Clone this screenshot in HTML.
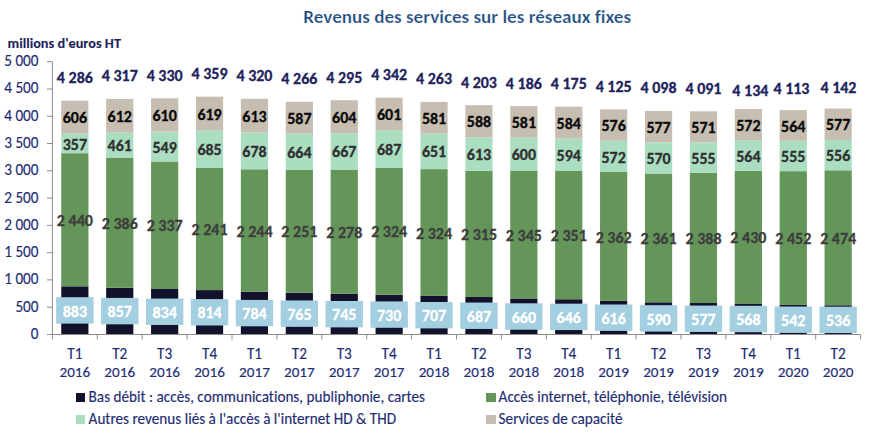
<!DOCTYPE html><html><head><meta charset="utf-8"><style>
html,body{margin:0;padding:0;background:#fff;}
svg{display:block;font-variant-ligatures:none;font-feature-settings:"liga" 0,"clig" 0;font-family:Carlito,"Liberation Sans",sans-serif;}
</style></head><body>
<svg width="871" height="435" viewBox="0 0 871 435">
<rect width="871" height="435" fill="#fff"/>
<text transform="translate(467.20 22.60) scale(1 0.93)" text-anchor="middle" font-size="19.1" font-weight="bold" fill="#1b4a80" stroke="#fff" stroke-width="0.25" textLength="327.78" lengthAdjust="spacingAndGlyphs">Revenus des services sur les réseaux fixes</text>
<text x="7.50" y="47.70" font-size="14.3" font-weight="bold" stroke="#221f5c" stroke-width="0.1" fill="#221f5c" textLength="113.48" lengthAdjust="spacingAndGlyphs">millions d'euros HT</text>
<text transform="translate(38.50 338.90) scale(1 1.03)" text-anchor="end" font-size="15.2" fill="#1e2c74" stroke="#1e2c74" stroke-width="0.15" textLength="7.71" lengthAdjust="spacingAndGlyphs">0</text>
<text transform="translate(38.50 311.62) scale(1 1.03)" text-anchor="end" font-size="15.2" fill="#1e2c74" stroke="#1e2c74" stroke-width="0.15" textLength="23.11" lengthAdjust="spacingAndGlyphs">500</text>
<text transform="translate(38.50 284.34) scale(1 1.03)" text-anchor="end" font-size="15.2" fill="#1e2c74" stroke="#1e2c74" stroke-width="0.15" textLength="34.25" lengthAdjust="spacingAndGlyphs">1 000</text>
<text transform="translate(38.50 257.06) scale(1 1.03)" text-anchor="end" font-size="15.2" fill="#1e2c74" stroke="#1e2c74" stroke-width="0.15" textLength="34.25" lengthAdjust="spacingAndGlyphs">1 500</text>
<text transform="translate(38.50 229.78) scale(1 1.03)" text-anchor="end" font-size="15.2" fill="#1e2c74" stroke="#1e2c74" stroke-width="0.15" textLength="34.25" lengthAdjust="spacingAndGlyphs">2 000</text>
<text transform="translate(38.50 202.50) scale(1 1.03)" text-anchor="end" font-size="15.2" fill="#1e2c74" stroke="#1e2c74" stroke-width="0.15" textLength="34.25" lengthAdjust="spacingAndGlyphs">2 500</text>
<text transform="translate(38.50 175.22) scale(1 1.03)" text-anchor="end" font-size="15.2" fill="#1e2c74" stroke="#1e2c74" stroke-width="0.15" textLength="34.25" lengthAdjust="spacingAndGlyphs">3 000</text>
<text transform="translate(38.50 147.94) scale(1 1.03)" text-anchor="end" font-size="15.2" fill="#1e2c74" stroke="#1e2c74" stroke-width="0.15" textLength="34.25" lengthAdjust="spacingAndGlyphs">3 500</text>
<text transform="translate(38.50 120.66) scale(1 1.03)" text-anchor="end" font-size="15.2" fill="#1e2c74" stroke="#1e2c74" stroke-width="0.15" textLength="34.25" lengthAdjust="spacingAndGlyphs">4 000</text>
<text transform="translate(38.50 93.38) scale(1 1.03)" text-anchor="end" font-size="15.2" fill="#1e2c74" stroke="#1e2c74" stroke-width="0.15" textLength="34.25" lengthAdjust="spacingAndGlyphs">4 500</text>
<text transform="translate(38.50 66.10) scale(1 1.03)" text-anchor="end" font-size="15.2" fill="#1e2c74" stroke="#1e2c74" stroke-width="0.15" textLength="34.25" lengthAdjust="spacingAndGlyphs">5 000</text>
<rect x="61.25" y="286.32" width="27.2" height="48.18" fill="#13122d"/>
<rect x="61.25" y="153.20" width="27.2" height="133.13" fill="#64965a"/>
<rect x="61.25" y="133.72" width="27.2" height="19.48" fill="#abddc1"/>
<rect x="61.25" y="100.66" width="27.2" height="33.06" fill="#c7beb2"/>
<rect x="106.15" y="287.74" width="27.2" height="46.76" fill="#13122d"/>
<rect x="106.15" y="157.56" width="27.2" height="130.18" fill="#64965a"/>
<rect x="106.15" y="132.41" width="27.2" height="25.15" fill="#abddc1"/>
<rect x="106.15" y="98.96" width="27.2" height="33.45" fill="#c7beb2"/>
<rect x="151.05" y="289.00" width="27.2" height="45.50" fill="#13122d"/>
<rect x="151.05" y="161.49" width="27.2" height="127.51" fill="#64965a"/>
<rect x="151.05" y="131.54" width="27.2" height="29.95" fill="#abddc1"/>
<rect x="151.05" y="98.26" width="27.2" height="33.28" fill="#c7beb2"/>
<rect x="195.95" y="290.09" width="27.2" height="44.41" fill="#13122d"/>
<rect x="195.95" y="167.82" width="27.2" height="122.27" fill="#64965a"/>
<rect x="195.95" y="130.45" width="27.2" height="37.37" fill="#abddc1"/>
<rect x="195.95" y="96.67" width="27.2" height="33.77" fill="#c7beb2"/>
<rect x="240.85" y="291.72" width="27.2" height="42.78" fill="#13122d"/>
<rect x="240.85" y="169.29" width="27.2" height="122.43" fill="#64965a"/>
<rect x="240.85" y="132.30" width="27.2" height="36.99" fill="#abddc1"/>
<rect x="240.85" y="98.80" width="27.2" height="33.50" fill="#c7beb2"/>
<rect x="285.75" y="292.76" width="27.2" height="41.74" fill="#13122d"/>
<rect x="285.75" y="169.95" width="27.2" height="122.81" fill="#64965a"/>
<rect x="285.75" y="133.72" width="27.2" height="36.23" fill="#abddc1"/>
<rect x="285.75" y="101.75" width="27.2" height="31.97" fill="#c7beb2"/>
<rect x="330.65" y="293.85" width="27.2" height="40.65" fill="#13122d"/>
<rect x="330.65" y="169.57" width="27.2" height="124.29" fill="#64965a"/>
<rect x="330.65" y="133.17" width="27.2" height="36.39" fill="#abddc1"/>
<rect x="330.65" y="100.16" width="27.2" height="33.01" fill="#c7beb2"/>
<rect x="375.55" y="294.67" width="27.2" height="39.83" fill="#13122d"/>
<rect x="375.55" y="167.87" width="27.2" height="126.80" fill="#64965a"/>
<rect x="375.55" y="130.39" width="27.2" height="37.48" fill="#abddc1"/>
<rect x="375.55" y="97.60" width="27.2" height="32.79" fill="#c7beb2"/>
<rect x="420.45" y="295.93" width="27.2" height="38.57" fill="#13122d"/>
<rect x="420.45" y="169.13" width="27.2" height="126.80" fill="#64965a"/>
<rect x="420.45" y="133.61" width="27.2" height="35.52" fill="#abddc1"/>
<rect x="420.45" y="101.91" width="27.2" height="31.70" fill="#c7beb2"/>
<rect x="465.35" y="297.02" width="27.2" height="37.48" fill="#13122d"/>
<rect x="465.35" y="170.71" width="27.2" height="126.31" fill="#64965a"/>
<rect x="465.35" y="137.27" width="27.2" height="33.45" fill="#abddc1"/>
<rect x="465.35" y="105.18" width="27.2" height="32.08" fill="#c7beb2"/>
<rect x="510.25" y="298.49" width="27.2" height="36.01" fill="#13122d"/>
<rect x="510.25" y="170.55" width="27.2" height="127.94" fill="#64965a"/>
<rect x="510.25" y="137.81" width="27.2" height="32.74" fill="#abddc1"/>
<rect x="510.25" y="106.11" width="27.2" height="31.70" fill="#c7beb2"/>
<rect x="555.15" y="299.25" width="27.2" height="35.25" fill="#13122d"/>
<rect x="555.15" y="170.98" width="27.2" height="128.27" fill="#64965a"/>
<rect x="555.15" y="138.58" width="27.2" height="32.41" fill="#abddc1"/>
<rect x="555.15" y="106.71" width="27.2" height="31.86" fill="#c7beb2"/>
<rect x="600.05" y="300.89" width="27.2" height="33.61" fill="#13122d"/>
<rect x="600.05" y="172.02" width="27.2" height="128.87" fill="#64965a"/>
<rect x="600.05" y="140.81" width="27.2" height="31.21" fill="#abddc1"/>
<rect x="600.05" y="109.44" width="27.2" height="31.37" fill="#c7beb2"/>
<rect x="644.95" y="302.31" width="27.2" height="32.19" fill="#13122d"/>
<rect x="644.95" y="173.49" width="27.2" height="128.82" fill="#64965a"/>
<rect x="644.95" y="142.39" width="27.2" height="31.10" fill="#abddc1"/>
<rect x="644.95" y="110.91" width="27.2" height="31.48" fill="#c7beb2"/>
<rect x="689.85" y="303.02" width="27.2" height="31.48" fill="#13122d"/>
<rect x="689.85" y="172.73" width="27.2" height="130.29" fill="#64965a"/>
<rect x="689.85" y="142.45" width="27.2" height="30.28" fill="#abddc1"/>
<rect x="689.85" y="111.30" width="27.2" height="31.15" fill="#c7beb2"/>
<rect x="734.75" y="303.51" width="27.2" height="30.99" fill="#13122d"/>
<rect x="734.75" y="170.93" width="27.2" height="132.58" fill="#64965a"/>
<rect x="734.75" y="140.16" width="27.2" height="30.77" fill="#abddc1"/>
<rect x="734.75" y="108.95" width="27.2" height="31.21" fill="#c7beb2"/>
<rect x="779.65" y="304.93" width="27.2" height="29.57" fill="#13122d"/>
<rect x="779.65" y="171.15" width="27.2" height="133.78" fill="#64965a"/>
<rect x="779.65" y="140.87" width="27.2" height="30.28" fill="#abddc1"/>
<rect x="779.65" y="110.09" width="27.2" height="30.77" fill="#c7beb2"/>
<rect x="824.55" y="305.26" width="27.2" height="29.24" fill="#13122d"/>
<rect x="824.55" y="170.27" width="27.2" height="134.98" fill="#64965a"/>
<rect x="824.55" y="139.94" width="27.2" height="30.34" fill="#abddc1"/>
<rect x="824.55" y="108.51" width="27.2" height="31.43" fill="#c7beb2"/>
<path d="M52.4 61.7V334.5H860.6" fill="none" stroke="#8c8c8c" stroke-width="1"/>
<path d="M47 334.5H52.4" stroke="#8c8c8c" stroke-width="1"/>
<path d="M47 307.2H52.4" stroke="#8c8c8c" stroke-width="1"/>
<path d="M47 279.9H52.4" stroke="#8c8c8c" stroke-width="1"/>
<path d="M47 252.7H52.4" stroke="#8c8c8c" stroke-width="1"/>
<path d="M47 225.4H52.4" stroke="#8c8c8c" stroke-width="1"/>
<path d="M47 198.1H52.4" stroke="#8c8c8c" stroke-width="1"/>
<path d="M47 170.8H52.4" stroke="#8c8c8c" stroke-width="1"/>
<path d="M47 143.5H52.4" stroke="#8c8c8c" stroke-width="1"/>
<path d="M47 116.3H52.4" stroke="#8c8c8c" stroke-width="1"/>
<path d="M47 89.0H52.4" stroke="#8c8c8c" stroke-width="1"/>
<path d="M47 61.7H52.4" stroke="#8c8c8c" stroke-width="1"/>
<path d="M52.4 334.5V339.5" stroke="#8c8c8c" stroke-width="1"/>
<path d="M97.3 334.5V339.5" stroke="#8c8c8c" stroke-width="1"/>
<path d="M142.2 334.5V339.5" stroke="#8c8c8c" stroke-width="1"/>
<path d="M187.1 334.5V339.5" stroke="#8c8c8c" stroke-width="1"/>
<path d="M232.0 334.5V339.5" stroke="#8c8c8c" stroke-width="1"/>
<path d="M276.9 334.5V339.5" stroke="#8c8c8c" stroke-width="1"/>
<path d="M321.8 334.5V339.5" stroke="#8c8c8c" stroke-width="1"/>
<path d="M366.7 334.5V339.5" stroke="#8c8c8c" stroke-width="1"/>
<path d="M411.6 334.5V339.5" stroke="#8c8c8c" stroke-width="1"/>
<path d="M456.5 334.5V339.5" stroke="#8c8c8c" stroke-width="1"/>
<path d="M501.4 334.5V339.5" stroke="#8c8c8c" stroke-width="1"/>
<path d="M546.3 334.5V339.5" stroke="#8c8c8c" stroke-width="1"/>
<path d="M591.2 334.5V339.5" stroke="#8c8c8c" stroke-width="1"/>
<path d="M636.1 334.5V339.5" stroke="#8c8c8c" stroke-width="1"/>
<path d="M681.0 334.5V339.5" stroke="#8c8c8c" stroke-width="1"/>
<path d="M725.9 334.5V339.5" stroke="#8c8c8c" stroke-width="1"/>
<path d="M770.8 334.5V339.5" stroke="#8c8c8c" stroke-width="1"/>
<path d="M815.7 334.5V339.5" stroke="#8c8c8c" stroke-width="1"/>
<path d="M860.6 334.5V339.5" stroke="#8c8c8c" stroke-width="1"/>
<rect x="56.15" y="297.21" width="37.4" height="26.4" fill="#a3cfe1"/>
<text transform="translate(74.85 316.51) scale(1 0.965)" text-anchor="middle" font-size="16" font-weight="bold" stroke="#fff" stroke-width="0.3" fill="#fff" textLength="24.33" lengthAdjust="spacingAndGlyphs">883</text>
<text transform="translate(74.85 225.86) scale(1 0.965)" text-anchor="middle" font-size="16" font-weight="bold" stroke="#3d3d3d" stroke-width="0.3" fill="#3d3d3d" textLength="36.05" lengthAdjust="spacingAndGlyphs">2 440</text>
<text transform="translate(74.85 149.56) scale(1 0.965)" text-anchor="middle" font-size="16" font-weight="bold" stroke="#303030" stroke-width="0.3" fill="#303030" textLength="24.33" lengthAdjust="spacingAndGlyphs">357</text>
<text transform="translate(74.85 123.29) scale(1 0.965)" text-anchor="middle" font-size="16" font-weight="bold" stroke="#0a0a0a" stroke-width="0.3" fill="#0a0a0a" textLength="24.33" lengthAdjust="spacingAndGlyphs">606</text>
<text transform="translate(74.85 83.16) scale(1 0.94)" text-anchor="middle" font-size="16" font-weight="bold" stroke="#221f5c" stroke-width="0.3" fill="#221f5c" textLength="36.03" lengthAdjust="spacingAndGlyphs">4 286</text>
<text transform="translate(74.85 359.10) scale(1 1.04)" text-anchor="middle" font-size="15.2" fill="#1e2c74" stroke="#1e2c74" stroke-width="0.15" textLength="15.12" lengthAdjust="spacingAndGlyphs">T1</text>
<text x="74.85" y="376.50" text-anchor="middle" font-size="15.2" fill="#1e2c74" stroke="#1e2c74" stroke-width="0.15" textLength="30.80" lengthAdjust="spacingAndGlyphs">2016</text>
<rect x="101.05" y="297.92" width="37.4" height="26.4" fill="#a3cfe1"/>
<text transform="translate(119.75 317.22) scale(1 0.965)" text-anchor="middle" font-size="16" font-weight="bold" stroke="#fff" stroke-width="0.3" fill="#fff" textLength="24.33" lengthAdjust="spacingAndGlyphs">857</text>
<text transform="translate(119.75 228.75) scale(1 0.965)" text-anchor="middle" font-size="16" font-weight="bold" stroke="#3d3d3d" stroke-width="0.3" fill="#3d3d3d" textLength="36.05" lengthAdjust="spacingAndGlyphs">2 386</text>
<text transform="translate(119.75 151.09) scale(1 0.965)" text-anchor="middle" font-size="16" font-weight="bold" stroke="#303030" stroke-width="0.3" fill="#303030" textLength="24.33" lengthAdjust="spacingAndGlyphs">461</text>
<text transform="translate(119.75 121.76) scale(1 0.965)" text-anchor="middle" font-size="16" font-weight="bold" stroke="#0a0a0a" stroke-width="0.3" fill="#0a0a0a" textLength="24.33" lengthAdjust="spacingAndGlyphs">612</text>
<text transform="translate(119.75 81.46) scale(1 0.94)" text-anchor="middle" font-size="16" font-weight="bold" stroke="#221f5c" stroke-width="0.3" fill="#221f5c" textLength="36.03" lengthAdjust="spacingAndGlyphs">4 317</text>
<text transform="translate(119.75 359.10) scale(1 1.04)" text-anchor="middle" font-size="15.2" fill="#1e2c74" stroke="#1e2c74" stroke-width="0.15" textLength="15.12" lengthAdjust="spacingAndGlyphs">T2</text>
<text x="119.75" y="376.50" text-anchor="middle" font-size="15.2" fill="#1e2c74" stroke="#1e2c74" stroke-width="0.15" textLength="30.80" lengthAdjust="spacingAndGlyphs">2016</text>
<rect x="145.95" y="298.55" width="37.4" height="26.4" fill="#a3cfe1"/>
<text transform="translate(164.65 317.85) scale(1 0.965)" text-anchor="middle" font-size="16" font-weight="bold" stroke="#fff" stroke-width="0.3" fill="#fff" textLength="24.33" lengthAdjust="spacingAndGlyphs">834</text>
<text transform="translate(164.65 231.34) scale(1 0.965)" text-anchor="middle" font-size="16" font-weight="bold" stroke="#3d3d3d" stroke-width="0.3" fill="#3d3d3d" textLength="36.05" lengthAdjust="spacingAndGlyphs">2 337</text>
<text transform="translate(164.65 152.61) scale(1 0.965)" text-anchor="middle" font-size="16" font-weight="bold" stroke="#303030" stroke-width="0.3" fill="#303030" textLength="24.33" lengthAdjust="spacingAndGlyphs">549</text>
<text transform="translate(164.65 121.00) scale(1 0.965)" text-anchor="middle" font-size="16" font-weight="bold" stroke="#0a0a0a" stroke-width="0.3" fill="#0a0a0a" textLength="24.33" lengthAdjust="spacingAndGlyphs">610</text>
<text transform="translate(164.65 80.76) scale(1 0.94)" text-anchor="middle" font-size="16" font-weight="bold" stroke="#221f5c" stroke-width="0.3" fill="#221f5c" textLength="36.03" lengthAdjust="spacingAndGlyphs">4 330</text>
<text transform="translate(164.65 359.10) scale(1 1.04)" text-anchor="middle" font-size="15.2" fill="#1e2c74" stroke="#1e2c74" stroke-width="0.15" textLength="15.12" lengthAdjust="spacingAndGlyphs">T3</text>
<text x="164.65" y="376.50" text-anchor="middle" font-size="15.2" fill="#1e2c74" stroke="#1e2c74" stroke-width="0.15" textLength="30.80" lengthAdjust="spacingAndGlyphs">2016</text>
<rect x="190.85" y="299.09" width="37.4" height="26.4" fill="#a3cfe1"/>
<text transform="translate(209.55 318.39) scale(1 0.965)" text-anchor="middle" font-size="16" font-weight="bold" stroke="#fff" stroke-width="0.3" fill="#fff" textLength="24.33" lengthAdjust="spacingAndGlyphs">814</text>
<text transform="translate(209.55 235.05) scale(1 0.965)" text-anchor="middle" font-size="16" font-weight="bold" stroke="#3d3d3d" stroke-width="0.3" fill="#3d3d3d" textLength="36.05" lengthAdjust="spacingAndGlyphs">2 241</text>
<text transform="translate(209.55 155.23) scale(1 0.965)" text-anchor="middle" font-size="16" font-weight="bold" stroke="#303030" stroke-width="0.3" fill="#303030" textLength="24.33" lengthAdjust="spacingAndGlyphs">685</text>
<text transform="translate(209.55 119.66) scale(1 0.965)" text-anchor="middle" font-size="16" font-weight="bold" stroke="#0a0a0a" stroke-width="0.3" fill="#0a0a0a" textLength="24.33" lengthAdjust="spacingAndGlyphs">619</text>
<text transform="translate(209.55 79.17) scale(1 0.94)" text-anchor="middle" font-size="16" font-weight="bold" stroke="#221f5c" stroke-width="0.3" fill="#221f5c" textLength="36.03" lengthAdjust="spacingAndGlyphs">4 359</text>
<text transform="translate(209.55 359.10) scale(1 1.04)" text-anchor="middle" font-size="15.2" fill="#1e2c74" stroke="#1e2c74" stroke-width="0.15" textLength="15.12" lengthAdjust="spacingAndGlyphs">T4</text>
<text x="209.55" y="376.50" text-anchor="middle" font-size="15.2" fill="#1e2c74" stroke="#1e2c74" stroke-width="0.15" textLength="30.80" lengthAdjust="spacingAndGlyphs">2016</text>
<rect x="235.75" y="299.91" width="37.4" height="26.4" fill="#a3cfe1"/>
<text transform="translate(254.45 319.21) scale(1 0.965)" text-anchor="middle" font-size="16" font-weight="bold" stroke="#fff" stroke-width="0.3" fill="#fff" textLength="24.33" lengthAdjust="spacingAndGlyphs">784</text>
<text transform="translate(254.45 236.61) scale(1 0.965)" text-anchor="middle" font-size="16" font-weight="bold" stroke="#3d3d3d" stroke-width="0.3" fill="#3d3d3d" textLength="36.05" lengthAdjust="spacingAndGlyphs">2 244</text>
<text transform="translate(254.45 156.90) scale(1 0.965)" text-anchor="middle" font-size="16" font-weight="bold" stroke="#303030" stroke-width="0.3" fill="#303030" textLength="24.33" lengthAdjust="spacingAndGlyphs">678</text>
<text transform="translate(254.45 121.62) scale(1 0.965)" text-anchor="middle" font-size="16" font-weight="bold" stroke="#0a0a0a" stroke-width="0.3" fill="#0a0a0a" textLength="24.33" lengthAdjust="spacingAndGlyphs">613</text>
<text transform="translate(254.45 81.30) scale(1 0.94)" text-anchor="middle" font-size="16" font-weight="bold" stroke="#221f5c" stroke-width="0.3" fill="#221f5c" textLength="36.03" lengthAdjust="spacingAndGlyphs">4 320</text>
<text transform="translate(254.45 359.10) scale(1 1.04)" text-anchor="middle" font-size="15.2" fill="#1e2c74" stroke="#1e2c74" stroke-width="0.15" textLength="15.12" lengthAdjust="spacingAndGlyphs">T1</text>
<text x="254.45" y="376.50" text-anchor="middle" font-size="15.2" fill="#1e2c74" stroke="#1e2c74" stroke-width="0.15" textLength="30.80" lengthAdjust="spacingAndGlyphs">2017</text>
<rect x="280.65" y="300.43" width="37.4" height="26.4" fill="#a3cfe1"/>
<text transform="translate(299.35 319.73) scale(1 0.965)" text-anchor="middle" font-size="16" font-weight="bold" stroke="#fff" stroke-width="0.3" fill="#fff" textLength="24.33" lengthAdjust="spacingAndGlyphs">765</text>
<text transform="translate(299.35 237.45) scale(1 0.965)" text-anchor="middle" font-size="16" font-weight="bold" stroke="#3d3d3d" stroke-width="0.3" fill="#3d3d3d" textLength="36.05" lengthAdjust="spacingAndGlyphs">2 251</text>
<text transform="translate(299.35 157.93) scale(1 0.965)" text-anchor="middle" font-size="16" font-weight="bold" stroke="#303030" stroke-width="0.3" fill="#303030" textLength="24.33" lengthAdjust="spacingAndGlyphs">664</text>
<text transform="translate(299.35 123.86) scale(1 0.965)" text-anchor="middle" font-size="16" font-weight="bold" stroke="#0a0a0a" stroke-width="0.3" fill="#0a0a0a" textLength="24.33" lengthAdjust="spacingAndGlyphs">587</text>
<text transform="translate(299.35 84.25) scale(1 0.94)" text-anchor="middle" font-size="16" font-weight="bold" stroke="#221f5c" stroke-width="0.3" fill="#221f5c" textLength="36.03" lengthAdjust="spacingAndGlyphs">4 266</text>
<text transform="translate(299.35 359.10) scale(1 1.04)" text-anchor="middle" font-size="15.2" fill="#1e2c74" stroke="#1e2c74" stroke-width="0.15" textLength="15.12" lengthAdjust="spacingAndGlyphs">T2</text>
<text x="299.35" y="376.50" text-anchor="middle" font-size="15.2" fill="#1e2c74" stroke="#1e2c74" stroke-width="0.15" textLength="30.80" lengthAdjust="spacingAndGlyphs">2017</text>
<rect x="325.55" y="300.98" width="37.4" height="26.4" fill="#a3cfe1"/>
<text transform="translate(344.25 320.28) scale(1 0.965)" text-anchor="middle" font-size="16" font-weight="bold" stroke="#fff" stroke-width="0.3" fill="#fff" textLength="24.33" lengthAdjust="spacingAndGlyphs">745</text>
<text transform="translate(344.25 237.81) scale(1 0.965)" text-anchor="middle" font-size="16" font-weight="bold" stroke="#3d3d3d" stroke-width="0.3" fill="#3d3d3d" textLength="36.05" lengthAdjust="spacingAndGlyphs">2 278</text>
<text transform="translate(344.25 157.47) scale(1 0.965)" text-anchor="middle" font-size="16" font-weight="bold" stroke="#303030" stroke-width="0.3" fill="#303030" textLength="24.33" lengthAdjust="spacingAndGlyphs">667</text>
<text transform="translate(344.25 122.74) scale(1 0.965)" text-anchor="middle" font-size="16" font-weight="bold" stroke="#0a0a0a" stroke-width="0.3" fill="#0a0a0a" textLength="24.33" lengthAdjust="spacingAndGlyphs">604</text>
<text transform="translate(344.25 82.66) scale(1 0.94)" text-anchor="middle" font-size="16" font-weight="bold" stroke="#221f5c" stroke-width="0.3" fill="#221f5c" textLength="36.03" lengthAdjust="spacingAndGlyphs">4 295</text>
<text transform="translate(344.25 359.10) scale(1 1.04)" text-anchor="middle" font-size="15.2" fill="#1e2c74" stroke="#1e2c74" stroke-width="0.15" textLength="15.12" lengthAdjust="spacingAndGlyphs">T3</text>
<text x="344.25" y="376.50" text-anchor="middle" font-size="15.2" fill="#1e2c74" stroke="#1e2c74" stroke-width="0.15" textLength="30.80" lengthAdjust="spacingAndGlyphs">2017</text>
<rect x="370.45" y="301.39" width="37.4" height="26.4" fill="#a3cfe1"/>
<text transform="translate(389.15 320.69) scale(1 0.965)" text-anchor="middle" font-size="16" font-weight="bold" stroke="#fff" stroke-width="0.3" fill="#fff" textLength="24.33" lengthAdjust="spacingAndGlyphs">730</text>
<text transform="translate(389.15 237.37) scale(1 0.965)" text-anchor="middle" font-size="16" font-weight="bold" stroke="#3d3d3d" stroke-width="0.3" fill="#3d3d3d" textLength="36.05" lengthAdjust="spacingAndGlyphs">2 324</text>
<text transform="translate(389.15 155.23) scale(1 0.965)" text-anchor="middle" font-size="16" font-weight="bold" stroke="#303030" stroke-width="0.3" fill="#303030" textLength="24.33" lengthAdjust="spacingAndGlyphs">687</text>
<text transform="translate(389.15 120.10) scale(1 0.965)" text-anchor="middle" font-size="16" font-weight="bold" stroke="#0a0a0a" stroke-width="0.3" fill="#0a0a0a" textLength="24.33" lengthAdjust="spacingAndGlyphs">601</text>
<text transform="translate(389.15 80.10) scale(1 0.94)" text-anchor="middle" font-size="16" font-weight="bold" stroke="#221f5c" stroke-width="0.3" fill="#221f5c" textLength="36.03" lengthAdjust="spacingAndGlyphs">4 342</text>
<text transform="translate(389.15 359.10) scale(1 1.04)" text-anchor="middle" font-size="15.2" fill="#1e2c74" stroke="#1e2c74" stroke-width="0.15" textLength="15.12" lengthAdjust="spacingAndGlyphs">T4</text>
<text x="389.15" y="376.50" text-anchor="middle" font-size="15.2" fill="#1e2c74" stroke="#1e2c74" stroke-width="0.15" textLength="30.80" lengthAdjust="spacingAndGlyphs">2017</text>
<rect x="415.35" y="302.01" width="37.4" height="26.4" fill="#a3cfe1"/>
<text transform="translate(434.05 321.31) scale(1 0.965)" text-anchor="middle" font-size="16" font-weight="bold" stroke="#fff" stroke-width="0.3" fill="#fff" textLength="24.33" lengthAdjust="spacingAndGlyphs">707</text>
<text transform="translate(434.05 238.63) scale(1 0.965)" text-anchor="middle" font-size="16" font-weight="bold" stroke="#3d3d3d" stroke-width="0.3" fill="#3d3d3d" textLength="36.05" lengthAdjust="spacingAndGlyphs">2 324</text>
<text transform="translate(434.05 157.47) scale(1 0.965)" text-anchor="middle" font-size="16" font-weight="bold" stroke="#303030" stroke-width="0.3" fill="#303030" textLength="24.33" lengthAdjust="spacingAndGlyphs">651</text>
<text transform="translate(434.05 123.86) scale(1 0.965)" text-anchor="middle" font-size="16" font-weight="bold" stroke="#0a0a0a" stroke-width="0.3" fill="#0a0a0a" textLength="24.33" lengthAdjust="spacingAndGlyphs">581</text>
<text transform="translate(434.05 84.41) scale(1 0.94)" text-anchor="middle" font-size="16" font-weight="bold" stroke="#221f5c" stroke-width="0.3" fill="#221f5c" textLength="36.03" lengthAdjust="spacingAndGlyphs">4 263</text>
<text transform="translate(434.05 359.10) scale(1 1.04)" text-anchor="middle" font-size="15.2" fill="#1e2c74" stroke="#1e2c74" stroke-width="0.15" textLength="15.12" lengthAdjust="spacingAndGlyphs">T1</text>
<text x="434.05" y="376.50" text-anchor="middle" font-size="15.2" fill="#1e2c74" stroke="#1e2c74" stroke-width="0.15" textLength="30.80" lengthAdjust="spacingAndGlyphs">2018</text>
<rect x="460.25" y="302.56" width="37.4" height="26.4" fill="#a3cfe1"/>
<text transform="translate(478.95 321.86) scale(1 0.965)" text-anchor="middle" font-size="16" font-weight="bold" stroke="#fff" stroke-width="0.3" fill="#fff" textLength="24.33" lengthAdjust="spacingAndGlyphs">687</text>
<text transform="translate(478.95 239.96) scale(1 0.965)" text-anchor="middle" font-size="16" font-weight="bold" stroke="#3d3d3d" stroke-width="0.3" fill="#3d3d3d" textLength="36.05" lengthAdjust="spacingAndGlyphs">2 315</text>
<text transform="translate(478.95 160.09) scale(1 0.965)" text-anchor="middle" font-size="16" font-weight="bold" stroke="#303030" stroke-width="0.3" fill="#303030" textLength="24.33" lengthAdjust="spacingAndGlyphs">613</text>
<text transform="translate(478.95 127.32) scale(1 0.965)" text-anchor="middle" font-size="16" font-weight="bold" stroke="#0a0a0a" stroke-width="0.3" fill="#0a0a0a" textLength="24.33" lengthAdjust="spacingAndGlyphs">588</text>
<text transform="translate(478.95 87.68) scale(1 0.94)" text-anchor="middle" font-size="16" font-weight="bold" stroke="#221f5c" stroke-width="0.3" fill="#221f5c" textLength="36.03" lengthAdjust="spacingAndGlyphs">4 203</text>
<text transform="translate(478.95 359.10) scale(1 1.04)" text-anchor="middle" font-size="15.2" fill="#1e2c74" stroke="#1e2c74" stroke-width="0.15" textLength="15.12" lengthAdjust="spacingAndGlyphs">T2</text>
<text x="478.95" y="376.50" text-anchor="middle" font-size="15.2" fill="#1e2c74" stroke="#1e2c74" stroke-width="0.15" textLength="30.80" lengthAdjust="spacingAndGlyphs">2018</text>
<rect x="505.15" y="303.30" width="37.4" height="26.4" fill="#a3cfe1"/>
<text transform="translate(523.85 322.60) scale(1 0.965)" text-anchor="middle" font-size="16" font-weight="bold" stroke="#fff" stroke-width="0.3" fill="#fff" textLength="24.33" lengthAdjust="spacingAndGlyphs">660</text>
<text transform="translate(523.85 240.62) scale(1 0.965)" text-anchor="middle" font-size="16" font-weight="bold" stroke="#3d3d3d" stroke-width="0.3" fill="#3d3d3d" textLength="36.05" lengthAdjust="spacingAndGlyphs">2 345</text>
<text transform="translate(523.85 160.28) scale(1 0.965)" text-anchor="middle" font-size="16" font-weight="bold" stroke="#303030" stroke-width="0.3" fill="#303030" textLength="24.33" lengthAdjust="spacingAndGlyphs">600</text>
<text transform="translate(523.85 128.06) scale(1 0.965)" text-anchor="middle" font-size="16" font-weight="bold" stroke="#0a0a0a" stroke-width="0.3" fill="#0a0a0a" textLength="24.33" lengthAdjust="spacingAndGlyphs">581</text>
<text transform="translate(523.85 88.61) scale(1 0.94)" text-anchor="middle" font-size="16" font-weight="bold" stroke="#221f5c" stroke-width="0.3" fill="#221f5c" textLength="36.03" lengthAdjust="spacingAndGlyphs">4 186</text>
<text transform="translate(523.85 359.10) scale(1 1.04)" text-anchor="middle" font-size="15.2" fill="#1e2c74" stroke="#1e2c74" stroke-width="0.15" textLength="15.12" lengthAdjust="spacingAndGlyphs">T3</text>
<text x="523.85" y="376.50" text-anchor="middle" font-size="15.2" fill="#1e2c74" stroke="#1e2c74" stroke-width="0.15" textLength="30.80" lengthAdjust="spacingAndGlyphs">2018</text>
<rect x="550.05" y="303.68" width="37.4" height="26.4" fill="#a3cfe1"/>
<text transform="translate(568.75 322.98) scale(1 0.965)" text-anchor="middle" font-size="16" font-weight="bold" stroke="#fff" stroke-width="0.3" fill="#fff" textLength="24.33" lengthAdjust="spacingAndGlyphs">646</text>
<text transform="translate(568.75 241.22) scale(1 0.965)" text-anchor="middle" font-size="16" font-weight="bold" stroke="#3d3d3d" stroke-width="0.3" fill="#3d3d3d" textLength="36.05" lengthAdjust="spacingAndGlyphs">2 351</text>
<text transform="translate(568.75 160.88) scale(1 0.965)" text-anchor="middle" font-size="16" font-weight="bold" stroke="#303030" stroke-width="0.3" fill="#303030" textLength="24.33" lengthAdjust="spacingAndGlyphs">594</text>
<text transform="translate(568.75 128.74) scale(1 0.965)" text-anchor="middle" font-size="16" font-weight="bold" stroke="#0a0a0a" stroke-width="0.3" fill="#0a0a0a" textLength="24.33" lengthAdjust="spacingAndGlyphs">584</text>
<text transform="translate(568.75 89.21) scale(1 0.94)" text-anchor="middle" font-size="16" font-weight="bold" stroke="#221f5c" stroke-width="0.3" fill="#221f5c" textLength="36.03" lengthAdjust="spacingAndGlyphs">4 175</text>
<text transform="translate(568.75 359.10) scale(1 1.04)" text-anchor="middle" font-size="15.2" fill="#1e2c74" stroke="#1e2c74" stroke-width="0.15" textLength="15.12" lengthAdjust="spacingAndGlyphs">T4</text>
<text x="568.75" y="376.50" text-anchor="middle" font-size="15.2" fill="#1e2c74" stroke="#1e2c74" stroke-width="0.15" textLength="30.80" lengthAdjust="spacingAndGlyphs">2018</text>
<rect x="594.95" y="304.50" width="37.4" height="26.4" fill="#a3cfe1"/>
<text transform="translate(613.65 323.80) scale(1 0.965)" text-anchor="middle" font-size="16" font-weight="bold" stroke="#fff" stroke-width="0.3" fill="#fff" textLength="24.33" lengthAdjust="spacingAndGlyphs">616</text>
<text transform="translate(613.65 242.56) scale(1 0.965)" text-anchor="middle" font-size="16" font-weight="bold" stroke="#3d3d3d" stroke-width="0.3" fill="#3d3d3d" textLength="36.05" lengthAdjust="spacingAndGlyphs">2 362</text>
<text transform="translate(613.65 162.52) scale(1 0.965)" text-anchor="middle" font-size="16" font-weight="bold" stroke="#303030" stroke-width="0.3" fill="#303030" textLength="24.33" lengthAdjust="spacingAndGlyphs">572</text>
<text transform="translate(613.65 131.25) scale(1 0.965)" text-anchor="middle" font-size="16" font-weight="bold" stroke="#0a0a0a" stroke-width="0.3" fill="#0a0a0a" textLength="24.33" lengthAdjust="spacingAndGlyphs">576</text>
<text transform="translate(613.65 91.94) scale(1 0.94)" text-anchor="middle" font-size="16" font-weight="bold" stroke="#221f5c" stroke-width="0.3" fill="#221f5c" textLength="36.03" lengthAdjust="spacingAndGlyphs">4 125</text>
<text transform="translate(613.65 359.10) scale(1 1.04)" text-anchor="middle" font-size="15.2" fill="#1e2c74" stroke="#1e2c74" stroke-width="0.15" textLength="15.12" lengthAdjust="spacingAndGlyphs">T1</text>
<text x="613.65" y="376.50" text-anchor="middle" font-size="15.2" fill="#1e2c74" stroke="#1e2c74" stroke-width="0.15" textLength="30.80" lengthAdjust="spacingAndGlyphs">2019</text>
<rect x="639.85" y="305.20" width="37.4" height="26.4" fill="#a3cfe1"/>
<text transform="translate(658.55 324.50) scale(1 0.965)" text-anchor="middle" font-size="16" font-weight="bold" stroke="#fff" stroke-width="0.3" fill="#fff" textLength="24.33" lengthAdjust="spacingAndGlyphs">590</text>
<text transform="translate(658.55 244.00) scale(1 0.965)" text-anchor="middle" font-size="16" font-weight="bold" stroke="#3d3d3d" stroke-width="0.3" fill="#3d3d3d" textLength="36.05" lengthAdjust="spacingAndGlyphs">2 361</text>
<text transform="translate(658.55 164.04) scale(1 0.965)" text-anchor="middle" font-size="16" font-weight="bold" stroke="#303030" stroke-width="0.3" fill="#303030" textLength="24.33" lengthAdjust="spacingAndGlyphs">570</text>
<text transform="translate(658.55 132.75) scale(1 0.965)" text-anchor="middle" font-size="16" font-weight="bold" stroke="#0a0a0a" stroke-width="0.3" fill="#0a0a0a" textLength="24.33" lengthAdjust="spacingAndGlyphs">577</text>
<text transform="translate(658.55 93.41) scale(1 0.94)" text-anchor="middle" font-size="16" font-weight="bold" stroke="#221f5c" stroke-width="0.3" fill="#221f5c" textLength="36.03" lengthAdjust="spacingAndGlyphs">4 098</text>
<text transform="translate(658.55 359.10) scale(1 1.04)" text-anchor="middle" font-size="15.2" fill="#1e2c74" stroke="#1e2c74" stroke-width="0.15" textLength="15.12" lengthAdjust="spacingAndGlyphs">T2</text>
<text x="658.55" y="376.50" text-anchor="middle" font-size="15.2" fill="#1e2c74" stroke="#1e2c74" stroke-width="0.15" textLength="30.80" lengthAdjust="spacingAndGlyphs">2019</text>
<rect x="684.75" y="305.56" width="37.4" height="26.4" fill="#a3cfe1"/>
<text transform="translate(703.45 324.86) scale(1 0.965)" text-anchor="middle" font-size="16" font-weight="bold" stroke="#fff" stroke-width="0.3" fill="#fff" textLength="24.33" lengthAdjust="spacingAndGlyphs">577</text>
<text transform="translate(703.45 243.97) scale(1 0.965)" text-anchor="middle" font-size="16" font-weight="bold" stroke="#3d3d3d" stroke-width="0.3" fill="#3d3d3d" textLength="36.05" lengthAdjust="spacingAndGlyphs">2 388</text>
<text transform="translate(703.45 163.69) scale(1 0.965)" text-anchor="middle" font-size="16" font-weight="bold" stroke="#303030" stroke-width="0.3" fill="#303030" textLength="24.33" lengthAdjust="spacingAndGlyphs">555</text>
<text transform="translate(703.45 132.97) scale(1 0.965)" text-anchor="middle" font-size="16" font-weight="bold" stroke="#0a0a0a" stroke-width="0.3" fill="#0a0a0a" textLength="24.33" lengthAdjust="spacingAndGlyphs">571</text>
<text transform="translate(703.45 93.80) scale(1 0.94)" text-anchor="middle" font-size="16" font-weight="bold" stroke="#221f5c" stroke-width="0.3" fill="#221f5c" textLength="36.03" lengthAdjust="spacingAndGlyphs">4 091</text>
<text transform="translate(703.45 359.10) scale(1 1.04)" text-anchor="middle" font-size="15.2" fill="#1e2c74" stroke="#1e2c74" stroke-width="0.15" textLength="15.12" lengthAdjust="spacingAndGlyphs">T3</text>
<text x="703.45" y="376.50" text-anchor="middle" font-size="15.2" fill="#1e2c74" stroke="#1e2c74" stroke-width="0.15" textLength="30.80" lengthAdjust="spacingAndGlyphs">2019</text>
<rect x="729.65" y="305.80" width="37.4" height="26.4" fill="#a3cfe1"/>
<text transform="translate(748.35 325.10) scale(1 0.965)" text-anchor="middle" font-size="16" font-weight="bold" stroke="#fff" stroke-width="0.3" fill="#fff" textLength="24.33" lengthAdjust="spacingAndGlyphs">568</text>
<text transform="translate(748.35 243.32) scale(1 0.965)" text-anchor="middle" font-size="16" font-weight="bold" stroke="#3d3d3d" stroke-width="0.3" fill="#3d3d3d" textLength="36.05" lengthAdjust="spacingAndGlyphs">2 430</text>
<text transform="translate(748.35 161.64) scale(1 0.965)" text-anchor="middle" font-size="16" font-weight="bold" stroke="#303030" stroke-width="0.3" fill="#303030" textLength="24.33" lengthAdjust="spacingAndGlyphs">564</text>
<text transform="translate(748.35 130.65) scale(1 0.965)" text-anchor="middle" font-size="16" font-weight="bold" stroke="#0a0a0a" stroke-width="0.3" fill="#0a0a0a" textLength="24.33" lengthAdjust="spacingAndGlyphs">572</text>
<text transform="translate(750.35 96.05) scale(1 0.94)" text-anchor="middle" font-size="16" font-weight="bold" stroke="#221f5c" stroke-width="0.3" fill="#221f5c" textLength="36.03" lengthAdjust="spacingAndGlyphs">4 134</text>
<text transform="translate(748.35 359.10) scale(1 1.04)" text-anchor="middle" font-size="15.2" fill="#1e2c74" stroke="#1e2c74" stroke-width="0.15" textLength="15.12" lengthAdjust="spacingAndGlyphs">T4</text>
<text x="748.35" y="376.50" text-anchor="middle" font-size="15.2" fill="#1e2c74" stroke="#1e2c74" stroke-width="0.15" textLength="30.80" lengthAdjust="spacingAndGlyphs">2019</text>
<rect x="774.55" y="306.51" width="37.4" height="26.4" fill="#a3cfe1"/>
<text transform="translate(793.25 325.81) scale(1 0.965)" text-anchor="middle" font-size="16" font-weight="bold" stroke="#fff" stroke-width="0.3" fill="#fff" textLength="24.33" lengthAdjust="spacingAndGlyphs">542</text>
<text transform="translate(793.25 244.14) scale(1 0.965)" text-anchor="middle" font-size="16" font-weight="bold" stroke="#3d3d3d" stroke-width="0.3" fill="#3d3d3d" textLength="36.05" lengthAdjust="spacingAndGlyphs">2 452</text>
<text transform="translate(793.25 162.11) scale(1 0.965)" text-anchor="middle" font-size="16" font-weight="bold" stroke="#303030" stroke-width="0.3" fill="#303030" textLength="24.33" lengthAdjust="spacingAndGlyphs">555</text>
<text transform="translate(793.25 131.58) scale(1 0.965)" text-anchor="middle" font-size="16" font-weight="bold" stroke="#0a0a0a" stroke-width="0.3" fill="#0a0a0a" textLength="24.33" lengthAdjust="spacingAndGlyphs">564</text>
<text transform="translate(791.45 94.39) scale(1 0.94)" text-anchor="middle" font-size="16" font-weight="bold" stroke="#221f5c" stroke-width="0.3" fill="#221f5c" textLength="36.03" lengthAdjust="spacingAndGlyphs">4 113</text>
<text transform="translate(793.25 359.10) scale(1 1.04)" text-anchor="middle" font-size="15.2" fill="#1e2c74" stroke="#1e2c74" stroke-width="0.15" textLength="15.12" lengthAdjust="spacingAndGlyphs">T1</text>
<text x="793.25" y="376.50" text-anchor="middle" font-size="15.2" fill="#1e2c74" stroke="#1e2c74" stroke-width="0.15" textLength="30.80" lengthAdjust="spacingAndGlyphs">2020</text>
<rect x="819.45" y="306.68" width="37.4" height="26.4" fill="#a3cfe1"/>
<text transform="translate(838.15 325.98) scale(1 0.965)" text-anchor="middle" font-size="16" font-weight="bold" stroke="#fff" stroke-width="0.3" fill="#fff" textLength="24.33" lengthAdjust="spacingAndGlyphs">536</text>
<text transform="translate(838.15 243.87) scale(1 0.965)" text-anchor="middle" font-size="16" font-weight="bold" stroke="#3d3d3d" stroke-width="0.3" fill="#3d3d3d" textLength="36.05" lengthAdjust="spacingAndGlyphs">2 474</text>
<text transform="translate(838.15 161.21) scale(1 0.965)" text-anchor="middle" font-size="16" font-weight="bold" stroke="#303030" stroke-width="0.3" fill="#303030" textLength="24.33" lengthAdjust="spacingAndGlyphs">556</text>
<text transform="translate(838.15 130.35) scale(1 0.965)" text-anchor="middle" font-size="16" font-weight="bold" stroke="#0a0a0a" stroke-width="0.3" fill="#0a0a0a" textLength="24.33" lengthAdjust="spacingAndGlyphs">577</text>
<text transform="translate(838.45 93.01) scale(1 0.94)" text-anchor="middle" font-size="16" font-weight="bold" stroke="#221f5c" stroke-width="0.3" fill="#221f5c" textLength="36.03" lengthAdjust="spacingAndGlyphs">4 142</text>
<text transform="translate(838.15 359.10) scale(1 1.04)" text-anchor="middle" font-size="15.2" fill="#1e2c74" stroke="#1e2c74" stroke-width="0.15" textLength="15.12" lengthAdjust="spacingAndGlyphs">T2</text>
<text x="838.15" y="376.50" text-anchor="middle" font-size="15.2" fill="#1e2c74" stroke="#1e2c74" stroke-width="0.15" textLength="30.80" lengthAdjust="spacingAndGlyphs">2020</text>
<rect x="76" y="393" width="9" height="9" fill="#13122d"/>
<text transform="translate(88.60 401.80) scale(1 1.02)" font-size="15.2" fill="#1e2c74" stroke="#1e2c74" stroke-width="0.15" textLength="336.34" lengthAdjust="spacingAndGlyphs">Bas débit : accès, communications, publiphonie, cartes</text>
<rect x="486" y="393" width="10" height="9" fill="#64965a"/>
<text transform="translate(498.60 401.80) scale(1 1.02)" font-size="15.2" fill="#1e2c74" stroke="#1e2c74" stroke-width="0.15" textLength="228.38" lengthAdjust="spacingAndGlyphs">Accès internet, téléphonie, télévision</text>
<rect x="76" y="415" width="9" height="9" fill="#abddc1"/>
<text transform="translate(88.60 423.80) scale(1 1.02)" font-size="15.2" fill="#1e2c74" stroke="#1e2c74" stroke-width="0.15" textLength="307.42" lengthAdjust="spacingAndGlyphs">Autres revenus liés à l'accès à l'internet HD &amp; THD</text>
<rect x="486" y="415" width="10" height="9" fill="#c7beb2"/>
<text transform="translate(498.60 423.80) scale(1 1.02)" font-size="15.2" fill="#1e2c74" stroke="#1e2c74" stroke-width="0.15" textLength="123.86" lengthAdjust="spacingAndGlyphs">Services de capacité</text>
</svg></body></html>
